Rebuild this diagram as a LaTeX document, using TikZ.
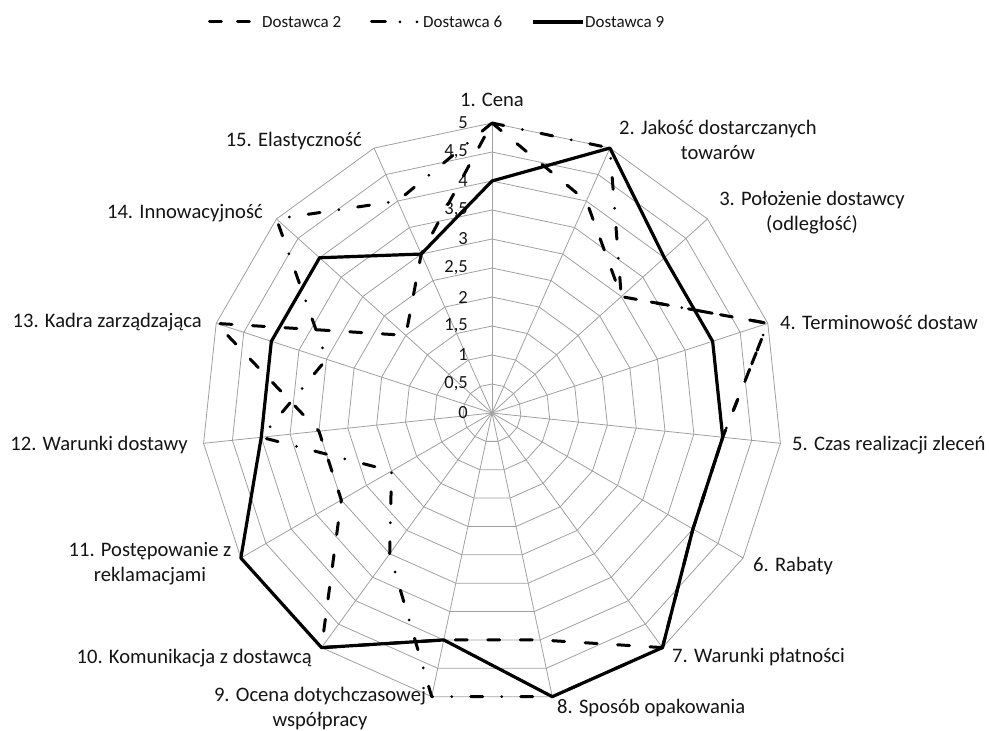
\documentclass[tikz,border=0pt]{standalone}
\usepackage{fontspec}
\setmainfont{Carlito}
\usetikzlibrary{positioning}
\definecolor{gridgray}{HTML}{A0A0A0}
\definecolor{labelblack}{HTML}{141414}

\begin{document}
\begin{tikzpicture}[
    x=1pt, y=1pt,
    gridline/.style={draw=gridgray, line width=0.8pt},
    dost2/.style={line width=3pt, line cap=round, line join=round,
                  dash pattern=on 12pt off 20.5pt},
    dost6/.style={line width=3pt, line cap=round, line join=round,
                  dash pattern=on 12pt off 19pt on 0pt off 19pt},
    dost9/.style={line width=3.2pt, line join=round},
    catlabel/.style={font=\fontsize{20.6}{25}\selectfont, text=labelblack,
                     inner sep=0pt, align=center},
    ticklabel/.style={font=\fontsize{18.5}{20}\selectfont, text=labelblack,
                      anchor=east, inner sep=0pt},
    legtext/.style={font=\fontsize{17}{20}\selectfont, text=labelblack,
                    anchor=west, inner sep=0pt}
  ]
    \useasboundingbox (-492,-318) rectangle (497,413);

    % grid: rings every 0.5 and 15 spokes
    \foreach \k in {1,...,10}
      \draw[gridline] (90:{29*\k}) \foreach \i in {1,...,14}{ -- ({90-24*\i}:{29*\k}) } -- cycle;
    \foreach \i in {1,...,15} {
      \coordinate (ax\i) at ({90-24*(\i-1)}:290);
      \draw[gridline] (0,0) -- (ax\i);
    }

    % scale
    \foreach \t/\lab in {0/0, 1/{0,5}, 2/1, 3/{1,5}, 4/2, 5/{2,5}, 6/3, 7/{3,5}, 8/4, 9/{4,5}, 10/5}
      \node[ticklabel] (tick\t) at (-24, 29*\t) {\lab};

    % data
    \foreach \v [count=\i] in {5,4,3,5,4,4,5,4,4,5,3,3,5,2,3}
      \coordinate (s2-\i) at ({90-24*(\i-1)}:{58*\v});
    \foreach \v [count=\i] in {5,5,3,5,4,4,5,5,5,3,2,4,3,5,4}
      \coordinate (s6-\i) at ({90-24*(\i-1)}:{58*\v});
    \foreach \v [count=\i] in {4,5,4,4,4,4,5,5,4,5,5,4,4,4,3}
      \coordinate (s9-\i) at ({90-24*(\i-1)}:{58*\v});

    \draw[dost2] (s2-1) \foreach \i in {2,...,15}{ -- (s2-\i) } -- cycle;
    \draw[dost6] (s6-1) \foreach \i in {2,...,15}{ -- (s6-\i) } -- cycle;
    \draw[dost9] (s9-1) \foreach \i in {2,...,15}{ -- (s9-\i) } -- cycle;

    % category labels
    \node[catlabel] (lab1) at (0,313) {1. Cena};
    \node[catlabel] (lab2) at (226,273) {2. Jakość dostarczanych\\towarów};
    \node[catlabel] (lab3) at (320,200) {3. Położenie dostawcy\\(odległość)};
    \node[catlabel, anchor=west] (lab4) at (288,91) {4. Terminowość dostaw};
    \node[catlabel, anchor=west] (lab5) at (300,-32) {5. Czas realizacji zleceń};
    \node[catlabel, anchor=west] (lab6) at (261,-153) {6. Rabaty};
    \node[catlabel, anchor=west] (lab7) at (180,-244) {7. Warunki płatności};
    \node[catlabel, anchor=west] (lab8) at (65,-295) {8. Sposób opakowania};
    \node[catlabel] (lab9) at (-172,-296) {9. Ocena dotychczasowej\\współpracy};
    \node[catlabel, anchor=east] (lab10) at (-180,-245) {10. Komunikacja z dostawcą};
    \node[catlabel] (lab11) at (-342,-151) {11. Postępowanie z\\reklamacjami};
    \node[catlabel, anchor=east] (lab12) at (-304,-32) {12. Warunki dostawy};
    \node[catlabel, anchor=east] (lab13) at (-290,91) {13. Kadra zarządzająca};
    \node[catlabel, anchor=east] (lab14) at (-229,200) {14. Innowacyjność};
    \node[catlabel, anchor=east] (lab15) at (-130,272) {15. Elastyczność};

    % legend
    \coordinate (l2a) at (-282.5,391);
    \coordinate (l2b) at (-241.5,391);
    \coordinate (l6a) at (-120.5,391);
    \coordinate (l6b) at (-75,391);
    \coordinate (l9a) at (41,391);
    \coordinate (l9b) at (91,391);
    \draw[dost2, dash pattern=on 12pt off 16pt] (l2a) -- (l2b);
    \draw[dost6, dash pattern=on 14pt off 14.5pt on 0pt off 17pt on 0pt off 20pt] (l6a) -- (l6b);
    \draw[dost9] (l9a) -- (l9b);
    \node[legtext] (leg2) at (-230,391) {Dostawca 2};
    \node[legtext] (leg6) at (-69,391) {Dostawca 6};
    \node[legtext] (leg9) at (93,391) {Dostawca 9};
  \end{tikzpicture}
\end{document}
